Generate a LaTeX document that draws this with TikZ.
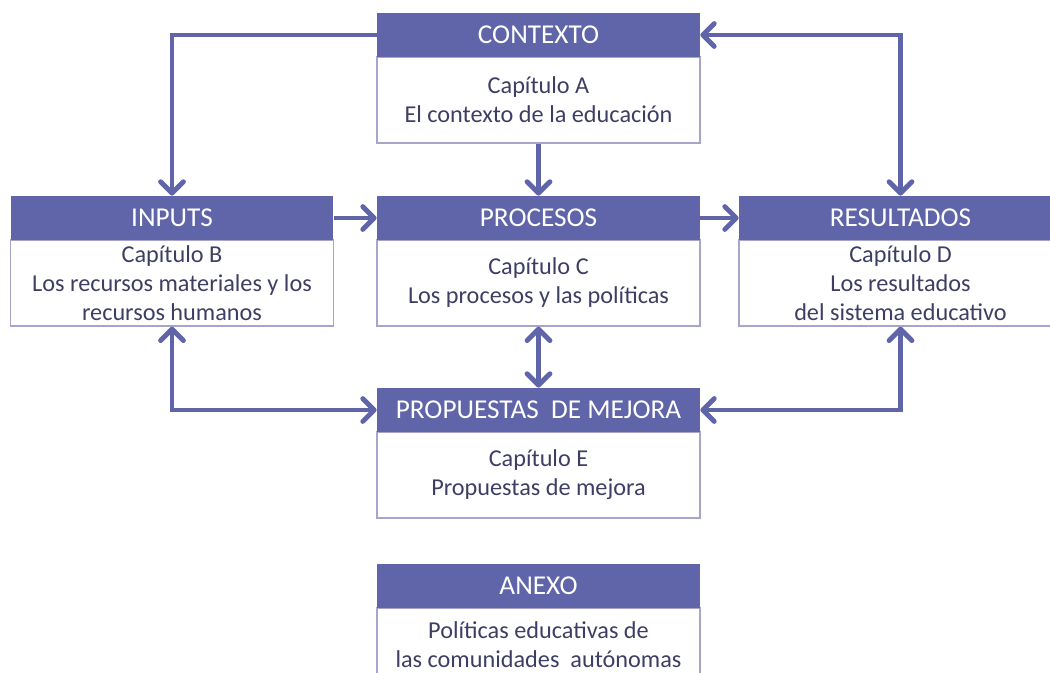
\documentclass[tikz,border=0pt]{standalone}
\usepackage{fontspec}
\setmainfont{Carlito}
\usetikzlibrary{arrows.meta}
\definecolor{boxblue}{RGB}{95,101,168}
\definecolor{boxline}{RGB}{165,165,205}
\definecolor{bodytext}{RGB}{62,62,100}
\tikzset{barb/.tip={Straight Barb[length=6.5pt,width=13pt,round]}}

\begin{document}
\begin{tikzpicture}[x=0.02cm, y=-0.02cm,
		head/.style={rectangle,fill=boxblue,text=white,minimum width=6.46cm,minimum height=0.88cm,inner sep=0pt,font=\fontsize{15.5}{18}\selectfont},
		body/.style={rectangle,draw=boxline,line width=0.8pt,text=bodytext,align=center,minimum width=6.46cm,minimum height=1.72cm,inner sep=0pt,font=\fontsize{13.8}{16.5}\selectfont},
		link/.style={draw=boxblue,line width=2.8pt}]
		\path[use as bounding box, clip] (0,0) rectangle (1050,672);
		% boxes
		\node[body] (ctxbody) at (538.5,100) {Capítulo A\\El contexto de la educación};
		\node[head] (ctxhead) at (538.5,35) {CONTEXTO};
		\node[body] (inbody) at (172,283) {Capítulo B\\Los recursos materiales y los\\recursos humanos};
		\node[head] (inhead) at (172,218) {INPUTS};
		\node[body] (probody) at (538.5,283) {Capítulo C\\Los procesos y las políticas};
		\node[head] (prohead) at (538.5,218) {PROCESOS};
		\node[body] (resbody) at (900.5,283) {Capítulo D\\Los resultados\\del sistema educativo};
		\node[head] (reshead) at (900.5,218) {RESULTADOS};
		\node[body] (propbody) at (538.5,475) {Capítulo E\\Propuestas de mejora};
		\node[head] (prophead) at (538.5,410) {PROPUESTAS\ \ DE MEJORA};
		\node[body,minimum height=1.48cm] (anxbody) at (538.5,645) {Políticas educativas de\\las comunidades\ \ autónomas};
		\node[head] (anxhead) at (538.5,586) {ANEXO};
		% arrows
		\draw[link,-barb] (ctxhead.west) -| (inhead.north);
		\draw[link,barb-barb] (ctxhead.east) -| (reshead.north);
		\draw[link,-barb] (ctxbody.south) -- (prohead.north);
		\draw[link,-barb] (inhead.east) -- (prohead.west);
		\draw[link,-barb] (prohead.east) -- (reshead.west);
		\draw[link,barb-barb] (probody.south) -- (prophead.north);
		\draw[link,barb-barb] (inbody.south) |- (prophead.west);
		\draw[link,barb-barb] (resbody.south) |- (prophead.east);
\end{tikzpicture}
\end{document}
